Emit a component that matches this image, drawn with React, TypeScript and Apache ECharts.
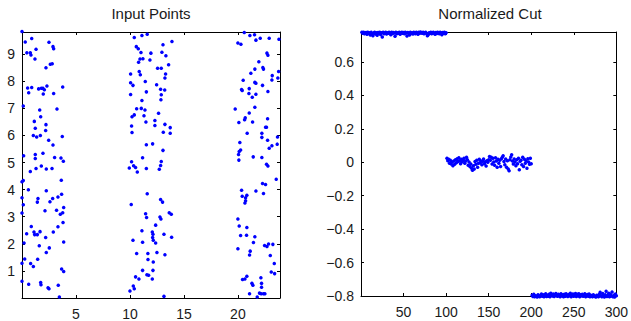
import React, { useEffect, useRef } from "react";
import * as echarts from "echarts";

// Input points, three vertical bands: [x, y]
const band1: number[][] = [
  [0, 9.84], [0.3, 9.45], [0.9, 9.58], [0.45, 9.05], [0.77, 9.05], [0.83, 8.97], [1.3, 9.18], [1.2, 8.82],
  [2.5, 9.44], [2.87, 9.28], [2.93, 9.2], [2.62, 8.63], [2.8, 8.65], [2.22, 8.5], [0.52, 7.75], [0.9, 7.77],
  [0.62, 7.58], [1.54, 7.72], [1.79, 7.74], [1.94, 7.74], [2.07, 7.69], [1.97, 7.53], [2.31, 7.83], [2.93, 7.55],
  [3.77, 7.79], [0.12, 7.09], [1.64, 6.94], [1.73, 6.69], [1.14, 6.52], [1.23, 6.27], [2.22, 6.4], [2.19, 6.18],
  [3.24, 6.98], [1.05, 6.0], [1.36, 5.94], [1.7, 6.0], [2.47, 5.82], [2.87, 5.65], [3.73, 5.96], [0.15, 5.25],
  [1.23, 5.3], [1.23, 5.15], [1.94, 5.34], [0.77, 4.67], [1.3, 4.78], [1.79, 4.87], [2.25, 4.76], [2.78, 4.78],
  [3.02, 5.19], [3.61, 5.17], [3.83, 5.05], [0, 4.29], [0.12, 4.34], [0.59, 4.0], [0, 3.7], [0.12, 3.44],
  [0, 3.14], [1.48, 3.67], [1.42, 3.54], [2.25, 3.96], [2.13, 3.22], [2.59, 3.55], [2.84, 3.67], [3.33, 3.73],
  [3.2, 3.24], [3.55, 3.09], [3.67, 3.83], [3.64, 4.35], [3.86, 3.34], [3.77, 3.15], [3.8, 2.79], [3.33, 2.63],
  [0.86, 2.64], [0.43, 2.37], [1.11, 2.44], [1.17, 2.34], [1.42, 2.34], [1.67, 2.45], [2.9, 2.44], [2.19, 2.23],
  [0.19, 2.03], [1.6, 1.93], [2.53, 1.85], [2.25, 1.68], [3.86, 2.07], [0.25, 1.44], [0, 1.28], [0.8, 1.27],
  [1.05, 1.16], [1.45, 1.43], [3.67, 1.07], [3.86, 0.98], [0, 0.62], [0.62, 0.51], [1.73, 0.57], [1.76, 0.49],
  [2.41, 0.38], [2.5, 0.34], [3.36, 0.47], [3.46, 0.04],
];
const band2: number[][] = [
  [10.4, 9.62], [11.11, 9.69], [11.6, 9.74], [13.89, 9.47], [10.59, 9.28], [10.77, 9.2], [13.06, 9.35], [11.02, 9.06],
  [10.8, 8.7], [10.93, 8.82], [11.2, 8.83], [11.94, 9.04], [11.85, 8.79], [12.96, 9.07], [13.33, 8.94], [13.58, 8.61],
  [10.06, 8.27], [10.86, 8.36], [10.96, 8.24], [12.56, 8.48], [12.9, 8.48], [13.3, 8.27], [13.24, 8.12], [10.06, 7.95],
  [10.28, 7.85], [11.42, 7.99], [12.47, 7.87], [12.84, 7.71], [13.22, 7.68], [10.06, 7.51], [11.52, 7.61], [12.9, 7.5],
  [12.87, 7.32], [11.11, 7.29], [10.62, 6.99], [11.05, 7.0], [11.39, 6.94], [10.4, 6.76], [11.3, 6.73], [12.65, 6.82],
  [10.19, 6.69], [10.15, 6.35], [10.19, 6.11], [11.48, 6.5], [12.31, 6.55], [12.31, 6.37], [13.24, 6.41], [13.73, 6.29],
  [13.73, 6.08], [13.09, 6.12], [11.52, 5.66], [12.1, 5.69], [13.06, 5.45], [11.17, 5.18], [10.15, 5.03], [10.34, 4.88],
  [9.94, 4.8], [10.52, 4.82], [10.68, 4.65], [11.52, 4.78], [12.9, 5.04], [12.84, 4.89], [12.72, 4.75], [11.6, 3.85],
  [10.12, 3.45], [12.84, 3.64], [13.02, 3.54], [11.45, 3.11], [11.54, 2.97], [12.78, 2.99], [12.87, 2.92], [13.64, 3.15],
  [13.83, 3.09], [12.38, 2.69], [11.11, 2.48], [12.07, 2.44], [12.13, 2.35], [12.1, 2.23], [12.16, 2.13], [12.38, 2.03],
  [13.15, 2.35], [13.86, 2.24], [10.28, 2.13], [11.17, 2.06], [12.5, 1.68], [11.66, 1.64], [10.62, 1.64], [13.24, 1.6],
  [11.67, 1.42], [12.16, 1.33], [11.17, 1.02], [12.13, 1.02], [11.57, 0.86], [11.73, 0.84], [10.52, 0.78], [10.83, 0.7],
  [12.07, 0.7], [10.31, 0.44], [10.4, 0.34], [10.0, 0.26], [13.15, 0.06],
];
const band3: number[][] = [
  [19.75, 6.98], [20.0, 9.41], [20.28, 9.37], [20.59, 9.8], [21.11, 9.69], [21.54, 9.72], [21.67, 9.52], [22.07, 9.59],
  [22.9, 9.59], [23.8, 9.55], [22.69, 9.04], [22.78, 8.96], [21.94, 8.72], [21.57, 8.45], [22.31, 8.51], [22.37, 8.45],
  [21.2, 8.3], [23.77, 8.36], [20.49, 8.04], [21.57, 7.96], [21.67, 7.93], [23.18, 8.21], [23.15, 8.05], [23.7, 8.12],
  [20.34, 7.7], [20.4, 7.66], [21.05, 7.73], [21.02, 7.55], [21.33, 7.41], [21.67, 7.52], [22.28, 7.85], [22.78, 7.62],
  [21.57, 7.04], [21.05, 6.83], [20.68, 6.65], [20.62, 6.58], [20.09, 6.48], [21.36, 6.5], [22.75, 6.62], [22.65, 6.3],
  [22.56, 6.3], [20.86, 6.08], [22.22, 6.08], [22.22, 5.93], [23.67, 5.94], [22.75, 5.82], [23.15, 5.62], [22.9, 5.53],
  [23.64, 5.68], [20.18, 5.74], [20.12, 5.41], [20.06, 5.3], [20.09, 5.09], [20.25, 5.46], [21.42, 5.21], [22.22, 5.19],
  [22.65, 4.94], [22.78, 4.87], [23.55, 4.38], [22.28, 4.23], [22.56, 4.19], [22.37, 3.86], [21.67, 3.95], [20.34, 3.98],
  [20.4, 3.76], [20.71, 3.7], [20.71, 3.59], [20.65, 3.51], [20.83, 3.79], [20.0, 2.92], [20.12, 2.66], [20.83, 2.6],
  [20.25, 2.31], [20.8, 2.32], [21.57, 2.26], [21.44, 2.05], [20.0, 1.82], [22.47, 1.94], [22.69, 1.9], [22.84, 1.99],
  [23.24, 1.98], [21.08, 1.59], [21.14, 1.73], [23.0, 1.57], [23.37, 1.27], [23.09, 0.96], [23.4, 0.9], [20.83, 0.8],
  [20.43, 0.68], [20.65, 0.7], [22.13, 0.75], [21.3, 0.54], [21.39, 0.47], [22.19, 0.54], [22.19, 0.4], [21.08, 0.16],
  [22.0, 0.18], [22.37, 0.16], [22.16, 0.16], [22.5, 0.16], [21.79, 0.04],
];

// Normalized cut eigenvector values, points 1..300
const cutA: number[] = [
  0.778, 0.772, 0.779, 0.769, 0.775, 0.777, 0.766, 0.779, 0.771, 0.776,
  0.762, 0.778, 0.770, 0.757, 0.774, 0.779, 0.768, 0.775, 0.760, 0.777,
  0.773, 0.779, 0.765, 0.776, 0.750, 0.778, 0.770, 0.774, 0.779, 0.768,
  0.776, 0.772, 0.779, 0.775, 0.763, 0.778, 0.771, 0.777, 0.774, 0.755,
  0.779, 0.770, 0.776, 0.773, 0.778, 0.766, 0.775, 0.779, 0.772, 0.777,
  0.769, 0.778, 0.774, 0.756, 0.777, 0.773, 0.762, 0.779, 0.771, 0.776,
  0.768, 0.778, 0.775, 0.770, 0.779, 0.774, 0.767, 0.778, 0.772, 0.780,
  0.776, 0.773, 0.778, 0.770, 0.775, 0.779, 0.771, 0.758, 0.763, 0.776,
  0.772, 0.778, 0.769, 0.775, 0.779, 0.773, 0.766, 0.777, 0.771, 0.778,
  0.774, 0.769, 0.779, 0.776, 0.764, 0.777, 0.772, 0.778, 0.770, 0.775,
];
const cutB: number[] = [
  0.025, 0.010, 0.018, -0.005, 0.012, -0.010, 0.002, -0.020, 0.008, -0.012,
  0.015, -0.002, 0.022, 0.005, 0.028, 0.010, -0.008, 0.018, 0.003, 0.012,
  0.025, -0.005, 0.008, 0.030, 0.015, -0.018, 0.002, -0.025, -0.010, -0.035,
  -0.048, -0.020, -0.040, 0.005, -0.012, 0.012, -0.030, -0.005, 0.018, -0.002,
  0.008, -0.015, 0.006, 0.020, -0.008, 0.003, -0.022, 0.010, 0.000, 0.015,
  0.035, 0.012, 0.030, -0.010, 0.025, 0.002, -0.018, 0.028, 0.008, -0.030,
  0.018, -0.005, 0.012, -0.025, 0.022, 0.030, 0.040, 0.005, -0.015, 0.020,
  -0.030, 0.010, -0.040, -0.050, 0.015, 0.032, 0.045, 0.008, -0.010, 0.020,
  0.002, -0.020, 0.015, -0.008, 0.025, -0.045, 0.006, 0.012, -0.015, 0.030,
  -0.025, 0.018, -0.005, 0.008, -0.035, 0.022, 0.002, -0.012, 0.025, -0.008,
];
const cutC: number[] = [
  -0.795, -0.803, -0.790, -0.805, -0.798, -0.802, -0.806, -0.793, -0.800, -0.804,
  -0.797, -0.788, -0.802, -0.792, -0.805, -0.799, -0.786, -0.803, -0.795, -0.801,
  -0.790, -0.804, -0.784, -0.796, -0.800, -0.788, -0.803, -0.792, -0.785, -0.798,
  -0.802, -0.789, -0.795, -0.805, -0.787, -0.799, -0.793, -0.804, -0.790, -0.801,
  -0.786, -0.797, -0.803, -0.791, -0.799, -0.784, -0.805, -0.794, -0.788, -0.802,
  -0.796, -0.785, -0.803, -0.790, -0.799, -0.787, -0.805, -0.793, -0.798, -0.789,
  -0.802, -0.795, -0.786, -0.804, -0.797, -0.791, -0.801, -0.788, -0.805, -0.796,
  -0.800, -0.804, -0.792, -0.798, -0.803, -0.806, -0.795, -0.801, -0.805, -0.790,
  -0.778, -0.798, -0.804, -0.785, -0.800, -0.806, -0.792, -0.772, -0.803, -0.797,
  -0.784, -0.805, -0.790, -0.800, -0.776, -0.804, -0.795, -0.806, -0.788, -0.799,
];

const titles = ["Input Points", "Normalized Cut"];

const FONT = "'Liberation Sans', Arial, Helvetica, sans-serif";
const TEXT = "#1a1a1a";
const BLUE = "#0000ff";

export default function App() {
  const ref = useRef<HTMLDivElement>(null);
  useEffect(() => {
    if (!ref.current) return;
    const chart = echarts.init(ref.current, null, { renderer: "svg" });

    const cutValues = [...cutA, ...cutB, ...cutC];
    const cutData = cutValues.map((v, i) => [i + 1, v]);
    const inputData = [...band1, ...band2, ...band3];

    const lineStyle = { color: "#000", width: 1 };
    const tick = { show: true, inside: true, length: 3, lineStyle: { color: "#000", width: 1 } };
    const label = {
      color: TEXT,
      fontSize: 14,
      fontFamily: FONT,
      showMinLabel: false,
      showMaxLabel: false,
      formatter: (v: number) => String(Math.round(v * 10) / 10).replace("-", "\u2212"),
    };

    const grids = [
      { left: 22, top: 32, width: 258, height: 266 },
      { left: 361, top: 32, width: 258, height: 264 },
    ];

    const mkX = (gi: number, min: number, max: number, interval: number, main: boolean, showMax: boolean) => ({
      type: "value",
      gridIndex: gi,
      min,
      max,
      interval,
      position: main ? "bottom" : "top",
      axisLine: { show: true, onZero: false, lineStyle },
      axisTick: tick,
      axisLabel: main ? { ...label, margin: 9, showMaxLabel: showMax } : { show: false },
      splitLine: { show: false },
    });
    const mkY = (gi: number, min: number, max: number, interval: number, main: boolean) => ({
      type: "value",
      gridIndex: gi,
      min,
      max,
      interval,
      position: main ? "left" : "right",
      axisLine: { show: true, onZero: false, lineStyle },
      axisTick: tick,
      axisLabel: main ? { ...label, margin: 7, showMinLabel: gi === 1 } : { show: false },
      splitLine: { show: false },
    });

    const marker = { color: BLUE, opacity: 1 };

    chart.setOption({
      animation: false,
      backgroundColor: "#fff",
      grid: grids,
      xAxis: [
        mkX(0, 0, 23.9, 5, true, false),
        mkX(0, 0, 23.9, 5, false, false),
        mkX(1, 0, 300, 50, true, true),
        mkX(1, 0, 300, 50, false, false),
      ],
      yAxis: [
        mkY(0, 0, 9.82, 1, true),
        mkY(0, 0, 9.82, 1, false),
        mkY(1, -0.8, 0.78, 0.2, true),
        mkY(1, -0.8, 0.78, 0.2, false),
      ],
      graphic: [
        {
          type: "text",
          x: 151,
          y: 6,
          style: { text: titles[0], fill: TEXT, fontSize: 15, fontFamily: FONT, textAlign: "center" },
        },
        {
          type: "text",
          x: 490,
          y: 6,
          style: { text: titles[1], fill: TEXT, fontSize: 15, fontFamily: FONT, textAlign: "center" },
        },
      ],
      series: [
        {
          type: "scatter",
          xAxisIndex: 0,
          yAxisIndex: 0,
          data: inputData,
          symbol: "circle",
          symbolSize: 3.5,
          itemStyle: marker,
          clip: false,
        },
        {
          type: "scatter",
          xAxisIndex: 2,
          yAxisIndex: 2,
          data: cutData,
          symbol: "circle",
          symbolSize: 3.5,
          itemStyle: marker,
          clip: false,
        },
      ],
    });
    return () => chart.dispose();
  }, []);
  return (
    <div
      ref={ref}
      style={{ position: "fixed", left: 0, top: 0, width: 631, height: 321, background: "#fff" }}
    />
  );
}
